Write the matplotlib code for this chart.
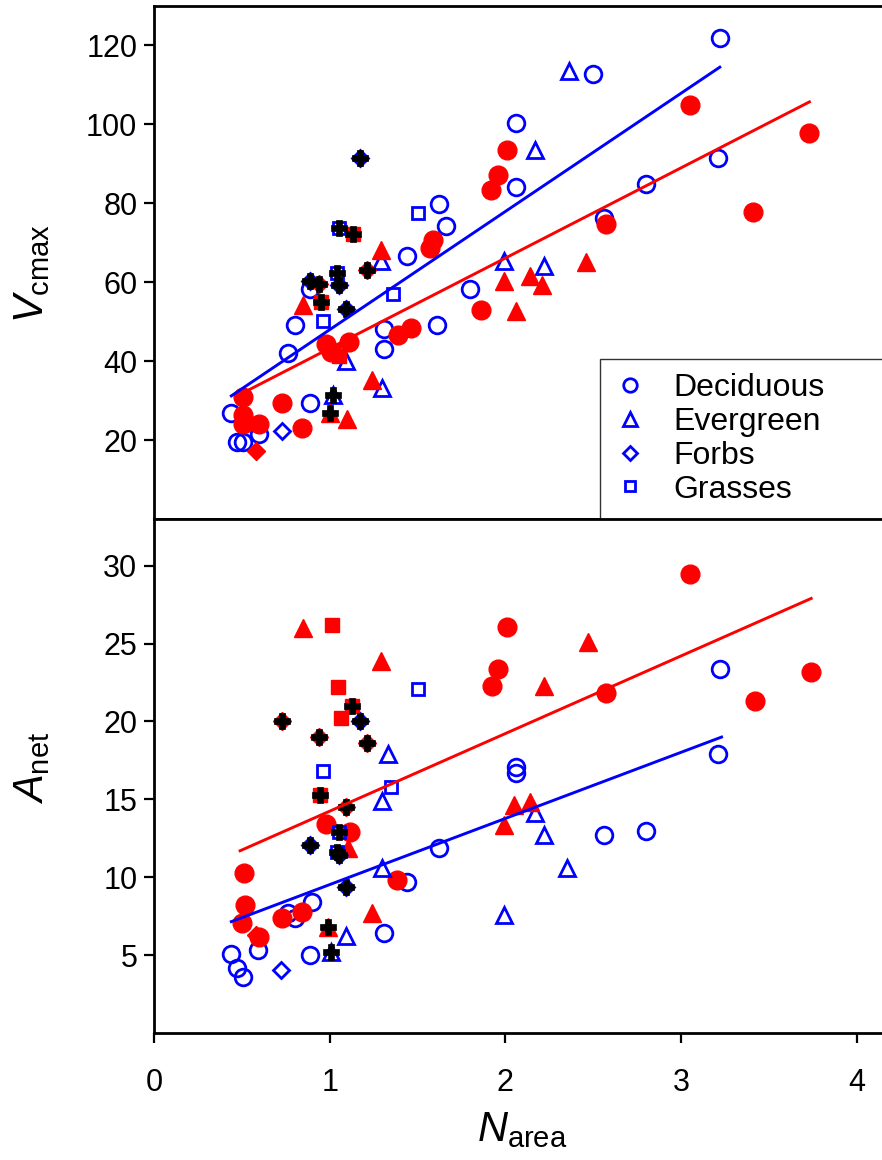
import matplotlib
matplotlib.use("Agg")
import matplotlib.pyplot as plt
from matplotlib.lines import Line2D

# ── Vcmax panel (top) ─────────────────────────────────────────────────────────
# blue = open symbols, red = filled symbols; "p" = with black cross overlay
vc_dec_b_x = [0.44, 0.47, 0.505, 0.60, 0.765, 0.80, 0.89, 0.89, 1.31, 1.31, 1.44,
              1.61, 1.62, 1.66, 1.80, 2.06, 2.06, 2.50, 2.56, 2.80, 3.21, 3.22]
vc_dec_b_y = [26.8, 19.4, 19.6, 21.6, 42.0, 49.1, 58.2, 29.3, 48.1, 43.0, 66.6,
              49.1, 79.7, 74.3, 58.2, 100.3, 84.2, 112.7, 76.2, 84.8, 91.4, 122.0]
vc_eve_b_x = [1.09, 1.29, 1.30, 1.99, 2.17, 2.22, 2.36]
vc_eve_b_y = [40.1, 65.5, 33.3, 65.3, 93.4, 64.2, 113.6]
vc_frb_b_x = [0.73]
vc_frb_b_y = [22.4]
vc_grs_b_x = [0.96, 1.36, 1.50]
vc_grs_b_y = [50.2, 56.9, 77.6]
vc_frb_bp_x = [1.17, 0.89, 1.05, 1.09]
vc_frb_bp_y = [91.6, 60.3, 59.3, 53.2]
vc_grs_bp_x = [1.05, 1.04]
vc_grs_bp_y = [73.8, 62.4]
vc_eve_bp_x = [1.02]
vc_eve_bp_y = [31.5]

vc_dec_r_x = [0.505, 0.505, 0.505, 0.60, 0.73, 0.84, 0.98, 1.11, 1.01, 1.39, 1.46,
              1.57, 1.585, 1.86, 1.92, 1.96, 2.01, 2.57, 3.05, 3.41, 3.73]
vc_dec_r_y = [30.8, 26.3, 24.0, 24.0, 29.4, 23.0, 44.3, 44.9, 42.2, 46.6, 48.5,
              68.7, 70.7, 53.0, 83.3, 87.2, 93.4, 74.8, 104.8, 77.9, 97.7]
vc_eve_r_x = [0.85, 1.10, 1.24, 1.29, 1.99, 2.06, 2.14, 2.21, 2.46]
vc_eve_r_y = [54.2, 25.3, 35.3, 68.1, 60.3, 52.6, 61.6, 59.3, 65.1]
vc_frb_r_x = [0.58]
vc_frb_r_y = [17.3]
vc_grs_r_x = [1.02, 1.05]
vc_grs_r_y = [42.5, 41.3]
vc_eve_rp_x = [1.00]
vc_eve_rp_y = [26.8]
vc_frb_rp_x = [1.21, 0.94]
vc_frb_rp_y = [63.0, 59.6]
vc_grs_rp_x = [1.13, 0.95]
vc_grs_rp_y = [72.3, 55.1]

vc_fit_b_x = [0.44, 3.22]
vc_fit_b_y = [31.2, 114.5]
vc_fit_r_x = [0.53, 3.73]
vc_fit_r_y = [32.5, 105.7]

# ── Anet panel (bottom) ───────────────────────────────────────────────────────
an_dec_b_x = [0.44, 0.47, 0.505, 0.59, 0.765, 0.80, 0.90, 0.89, 1.31, 1.44, 1.62,
              2.06, 2.06, 2.56, 2.80, 3.21, 3.22]
an_dec_b_y = [5.1, 4.2, 3.6, 5.3, 7.7, 7.4, 8.4, 5.0, 6.4, 9.7, 11.9,
              17.1, 16.7, 12.7, 13.0, 17.9, 23.35]
an_eve_b_x = [1.09, 1.30, 1.30, 1.33, 1.99, 2.17, 2.22, 2.35]
an_eve_b_y = [6.2, 10.6, 14.9, 17.9, 7.6, 14.1, 12.7, 10.6]
an_frb_b_x = [0.72]
an_frb_b_y = [4.05]
an_grs_b_x = [0.96, 1.35, 1.50]
an_grs_b_y = [16.8, 15.8, 22.1]
an_frb_bp_x = [1.17, 0.89, 1.05, 1.09]
an_frb_bp_y = [20.0, 12.1, 11.4, 9.4]
an_grs_bp_x = [1.05, 1.04]
an_grs_bp_y = [12.9, 11.6]
an_eve_bp_x = [1.01]
an_eve_bp_y = [5.2]

an_dec_r_x = [0.51, 0.52, 0.50, 0.60, 0.73, 0.84, 0.98, 1.115, 1.385, 1.925, 1.96,
              2.01, 2.57, 3.05, 3.42, 3.74]
an_dec_r_y = [10.3, 8.2, 7.05, 6.15, 7.4, 7.75, 13.4, 12.9, 9.8, 22.3, 23.4,
              26.05, 21.8, 29.5, 21.3, 23.2]
an_eve_r_x = [0.85, 1.29, 1.105, 1.24, 1.99, 2.05, 2.14, 2.22, 2.47]
an_eve_r_y = [26.0, 23.9, 11.9, 7.7, 13.35, 14.65, 14.85, 22.3, 25.1]
an_frb_r_x = [0.58]
an_frb_r_y = [6.3]
an_grs_r_x = [1.015, 1.045, 1.065]
an_grs_r_y = [26.2, 22.2, 20.2]
an_eve_rp_x = [0.99]
an_eve_rp_y = [6.8]
an_frb_rp_x = [0.73, 0.94, 1.21, 1.09]
an_frb_rp_y = [20.0, 19.0, 18.6, 14.5]
an_grs_rp_x = [1.125, 0.945]
an_grs_rp_y = [21.0, 15.3]

an_fit_b_x = [0.44, 3.23]
an_fit_b_y = [7.15, 19.0]
an_fit_r_x = [0.49, 3.74]
an_fit_r_y = [11.7, 27.9]

type_names = ["Deciduous", "Evergreen", "Forbs", "Grasses"]

# ── Style ─────────────────────────────────────────────────────────────────────
BLUE = "#0000FF"
RED = "#FF0000"
MARK = {"dec": ("o", 13.5), "eve": ("^", 13.5), "frb": ("D", 9.5), "grs": ("s", 10.0)}

plt.rcParams.update({
    "font.family": ["Liberation Sans", "DejaVu Sans"],
    "font.size": 22,
    "mathtext.fontset": "custom",
    "mathtext.rm": "Liberation Sans",
    "mathtext.it": "Liberation Sans:italic",
})

fig = plt.figure(figsize=(8.82, 11.6), dpi=100)
L, W = 154 / 882, 728 / 882
ax1 = fig.add_axes([L, 1 - 519 / 1160, W, 513 / 1160])
ax2 = fig.add_axes([L, 1 - 1033 / 1160, W, 514 / 1160])


def pts(ax, x, y, kind, color, filled, cross=False):
    m, ms = MARK[kind]
    if filled:
        ax.plot(x, y, ls="none", marker=m, ms=ms, mfc=color, mec=color, mew=1, zorder=3)
    else:
        ax.plot(x, y, ls="none", marker=m, ms=ms - 1.5, mfc="none", mec=color, mew=2, zorder=3)
    if cross:
        ax.plot(x, y, ls="none", marker="P", ms=11.5, mfc="black", mec="black", mew=0.5, zorder=4)


def draw_panel(ax, d):
    for kind in ["dec", "eve", "frb", "grs"]:
        if kind + "_b" in d:
            pts(ax, *d[kind + "_b"], kind, BLUE, False)
        if kind + "_r" in d:
            pts(ax, *d[kind + "_r"], kind, RED, True)
    for kind in ["dec", "eve", "frb", "grs"]:
        if kind + "_bp" in d:
            pts(ax, *d[kind + "_bp"], kind, BLUE, False, cross=True)
        if kind + "_rp" in d:
            pts(ax, *d[kind + "_rp"], kind, RED, True, cross=True)
    ax.plot(*d["fit_b"], color=BLUE, lw=2.1, zorder=5)
    ax.plot(*d["fit_r"], color=RED, lw=2.1, zorder=5)


draw_panel(ax1, {
    "dec_b": (vc_dec_b_x, vc_dec_b_y), "eve_b": (vc_eve_b_x, vc_eve_b_y),
    "frb_b": (vc_frb_b_x, vc_frb_b_y), "grs_b": (vc_grs_b_x, vc_grs_b_y),
    "frb_bp": (vc_frb_bp_x, vc_frb_bp_y), "grs_bp": (vc_grs_bp_x, vc_grs_bp_y),
    "eve_bp": (vc_eve_bp_x, vc_eve_bp_y),
    "dec_r": (vc_dec_r_x, vc_dec_r_y), "eve_r": (vc_eve_r_x, vc_eve_r_y),
    "frb_r": (vc_frb_r_x, vc_frb_r_y), "grs_r": (vc_grs_r_x, vc_grs_r_y),
    "eve_rp": (vc_eve_rp_x, vc_eve_rp_y), "frb_rp": (vc_frb_rp_x, vc_frb_rp_y),
    "grs_rp": (vc_grs_rp_x, vc_grs_rp_y),
    "fit_b": (vc_fit_b_x, vc_fit_b_y), "fit_r": (vc_fit_r_x, vc_fit_r_y),
})
draw_panel(ax2, {
    "dec_b": (an_dec_b_x, an_dec_b_y), "eve_b": (an_eve_b_x, an_eve_b_y),
    "frb_b": (an_frb_b_x, an_frb_b_y), "grs_b": (an_grs_b_x, an_grs_b_y),
    "frb_bp": (an_frb_bp_x, an_frb_bp_y), "grs_bp": (an_grs_bp_x, an_grs_bp_y),
    "eve_bp": (an_eve_bp_x, an_eve_bp_y),
    "dec_r": (an_dec_r_x, an_dec_r_y), "eve_r": (an_eve_r_x, an_eve_r_y),
    "frb_r": (an_frb_r_x, an_frb_r_y), "grs_r": (an_grs_r_x, an_grs_r_y),
    "eve_rp": (an_eve_rp_x, an_eve_rp_y), "frb_rp": (an_frb_rp_x, an_frb_rp_y),
    "grs_rp": (an_grs_rp_x, an_grs_rp_y),
    "fit_b": (an_fit_b_x, an_fit_b_y), "fit_r": (an_fit_r_x, an_fit_r_y),
})

# ── Axes ──────────────────────────────────────────────────────────────────────
for ax in (ax1, ax2):
    ax.set_xlim(0, 4.143)
    ax.spines["right"].set_visible(False)
    for s in ("left", "top", "bottom"):
        ax.spines[s].set_linewidth(2.0)
    ax.tick_params(axis="y", direction="out", length=7, width=1.6, pad=5, labelsize=22)
    ax.tick_params(axis="x", direction="out", length=7, width=1.6, pad=18, labelsize=22)

ax1.set_ylim(0, 130)
ax1.set_yticks([20, 40, 60, 80, 100, 120])
ax1.tick_params(axis="x", bottom=False, labelbottom=False)

ax2.set_ylim(0, 33)
ax2.set_yticks([5, 10, 15, 20, 25, 30])
ax2.set_xticks([0, 1, 2, 3, 4])

fig.text(32 / 882, 1 - 273 / 1160, r"$\mathit{V}_{\mathrm{cmax}}$", fontsize=30,
         rotation=90, ha="center", va="center")
fig.text(32 / 882, 1 - 768 / 1160, r"$\mathit{A}_{\mathrm{net}}$", fontsize=30,
         rotation=90, ha="center", va="center")
fig.text(522 / 882, 1 - 1141 / 1160, r"$\mathit{N}_{\mathrm{area}}$", fontsize=30,
         ha="center", va="baseline")

handles = [Line2D([0], [0], ls="none", marker=MARK[k][0], ms=MARK[k][1] * 0.72,
                  mfc="none", mec=BLUE, mew=2) for k in ["dec", "eve", "frb", "grs"]]
leg = ax1.legend(handles, type_names, loc="lower left", mode="expand",
                 bbox_to_anchor=(446 / 728, 0, 0.6, 0.3), borderaxespad=0,
                 frameon=True, fancybox=False, fontsize=23,
                 borderpad=0.45, labelspacing=0.12, handlelength=1.0, handletextpad=0.85)
leg.get_frame().set_edgecolor("black")
leg.get_frame().set_linewidth(1.0)
leg.set_zorder(10)

fig.savefig("out.png", dpi=100)
